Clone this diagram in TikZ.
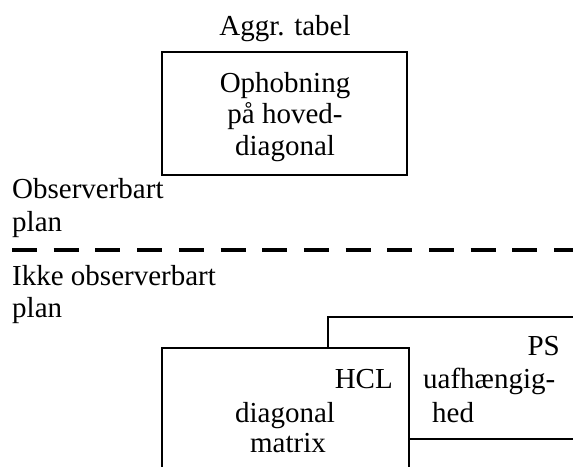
\documentclass[tikz,border=0pt]{standalone}
\usepackage{fontspec}
\setmainfont{Liberation Serif}
\begin{document}
\begin{tikzpicture}[x=1pt,y=-1pt,
  box/.style={draw=black,line width=2.2pt,fill=white},
  txt/.style={inner sep=0pt,anchor=base,font=\fontsize{29}{31}\selectfont},
  sep/.style={line width=3.5pt,dash pattern=on 25pt off 16.7pt}]
\useasboundingbox (0,0) rectangle (573,466);
% top box
\node[txt] (agg) at (285,35) {Aggr. tabel};
\draw[box] (162,52) rectangle (407,175);
\node[txt] (t1) at (285,92) {Ophobning};
\node[txt] (t2) at (285,123) {på hoved-};
\node[txt] (t3) at (285,155) {diagonal};
% plane labels
\node[txt,anchor=base west] (obs1) at (12,198) {Observerbart};
\node[txt,anchor=base west] (obs2) at (12,231) {plan};
\draw[sep] (12,250) coordinate (d0) -- (590,250) coordinate (d1);
\node[txt,anchor=base west] (ik1) at (12,285) {Ikke observerbart};
\node[txt,anchor=base west] (ik2) at (12,317) {plan};
% back box PS
\draw[box] (328,317) rectangle (600,439);
\node[txt,anchor=base east] (ps) at (560,355) {PS};
\node[txt,anchor=base west] (ps1) at (423,388) {uafhængig-};
\node[txt,anchor=base west] (ps2) at (432,422) {hed};
% front box HCL
\draw[box] (162,348) rectangle (409,490);
\node[txt,anchor=base east] (hcl) at (393,388) {HCL};
\node[txt] (h1) at (285,422) {diagonal};
\node[txt] (h2) at (288,452) {matrix};
\end{tikzpicture}
\end{document}
